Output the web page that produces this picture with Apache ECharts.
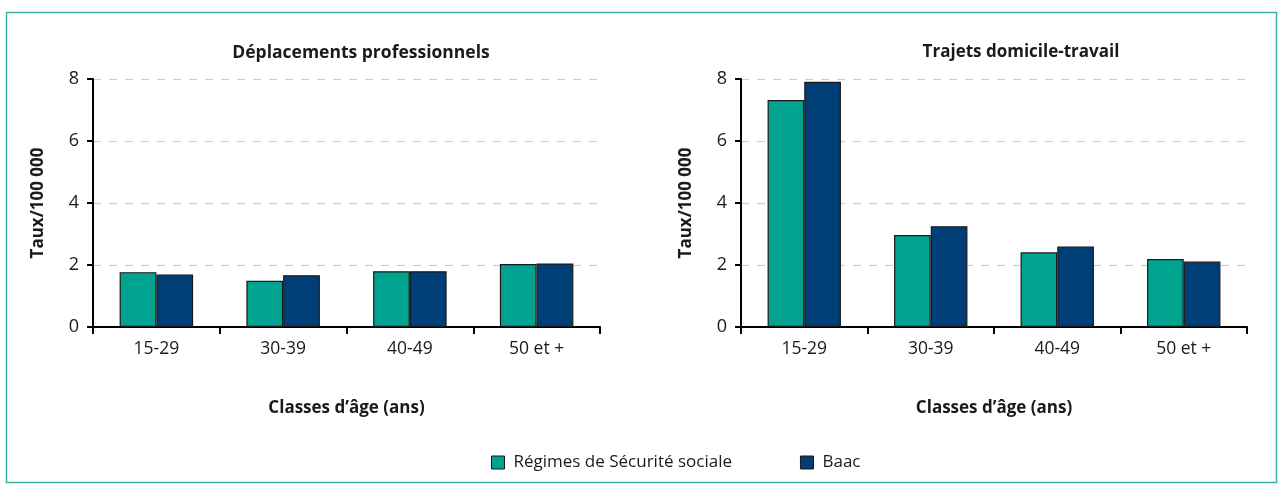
<!DOCTYPE html>
<html><head><meta charset="utf-8">
<script src="https://cdn.jsdelivr.net/npm/echarts@6/dist/echarts.min.js"></script>
<style>html,body{margin:0;padding:0;background:#fff}#c{width:1282px;height:488px}</style>
</head><body><div id="c"></div>
<script>
const categories = ['15-29', '30-39', '40-49', '50 et +'];
const seriesNames = ['Régimes de Sécurité sociale', 'Baac'];
const proSecu = [1.77, 1.49, 1.80, 2.03];
const proBaac = [1.69, 1.67, 1.80, 2.05];
const trajSecu = [7.32, 2.97, 2.41, 2.19];
const trajBaac = [7.91, 3.25, 2.60, 2.11];
const titles = ['Déplacements professionnels', 'Trajets domicile-travail'];
const yName = 'Taux/100 000';
const xName = 'Classes d\u2019âge (ans)';

const FONT = '"Open Sans", sans-serif';
const GREEN = '#00a38f', BLUE = '#003e78';
const chart = echarts.init(document.getElementById('c'));

function xAxis(i) {
  return {
    type: 'category', gridIndex: i, data: categories,
    name: xName, nameLocation: 'middle', nameGap: 73,
    nameTextStyle: {fontFamily: FONT, fontSize: 17, fontWeight: 'bold', color: '#1a1a1a'},
    axisLine: {lineStyle: {color: '#000', width: 2}},
    axisTick: {show: true, length: 7, lineStyle: {color: '#000', width: 2}},
    axisLabel: {fontFamily: FONT, fontSize: 17.5, color: '#1a1a1a', margin: 13}
  };
}
function yAxis(i) {
  return {
    type: 'value', gridIndex: i, min: 0, max: 8, interval: 2,
    name: yName, nameLocation: 'middle', nameGap: 46, nameRotate: 90,
    nameTextStyle: {fontFamily: FONT, fontSize: 17, fontWeight: 'bold', color: '#1a1a1a'},
    axisLine: {show: true, lineStyle: {color: '#000', width: 2}},
    axisTick: {show: true, length: 6, lineStyle: {color: '#000', width: 2}},
    axisLabel: {fontFamily: FONT, fontSize: 18, color: '#1a1a1a', margin: 14},
    splitLine: {show: true, lineStyle: {color: '#cfcfcf', type: [8, 8], width: 1.2}}
  };
}
function bar(name, data, color, i) {
  return {
    type: 'bar', name: name, data: data, xAxisIndex: i, yAxisIndex: i,
    barGap: '0%', barCategoryGap: '42%',
    itemStyle: {color: color, borderColor: '#1a1a1a', borderWidth: 1.2},
    emphasis: {disabled: true}
  };
}

chart.setOption({
  animation: false,
  title: [
    {text: titles[0], left: 356, top: 39, textAlign: 'center',
     textStyle: {fontFamily: FONT, fontSize: 17.5, fontWeight: 'bold', color: '#1a1a1a'}},
    {text: titles[1], left: 1016, top: 39, textAlign: 'center',
     textStyle: {fontFamily: FONT, fontSize: 17, fontWeight: 'bold', color: '#1a1a1a'}}
  ],
  grid: [
    {left: 93, right: 682, top: 79, bottom: 161},
    {left: 741, right: 35, top: 79, bottom: 161}
  ],
  xAxis: [xAxis(0), xAxis(1)],
  yAxis: [yAxis(0), yAxis(1)],
  legend: {
    left: 486, top: 449, itemWidth: 13, itemHeight: 13, itemGap: 68,
    icon: 'rect', data: seriesNames,
    textStyle: {fontFamily: FONT, fontSize: 17, color: '#1a1a1a', padding: [0, 0, 0, 4]},
    itemStyle: {borderColor: '#1a1a1a', borderWidth: 1}
  },
  graphic: [{
    type: 'rect', shape: {x: 6.5, y: 12.5, width: 1270, height: 470},
    style: {fill: 'none', stroke: '#3fb3a3', lineWidth: 1.5}, silent: true
  }],
  series: [
    bar(seriesNames[0], proSecu, GREEN, 0),
    bar(seriesNames[1], proBaac, BLUE, 0),
    bar(seriesNames[0], trajSecu, GREEN, 1),
    bar(seriesNames[1], trajBaac, BLUE, 1)
  ]
});
</script></body></html>
